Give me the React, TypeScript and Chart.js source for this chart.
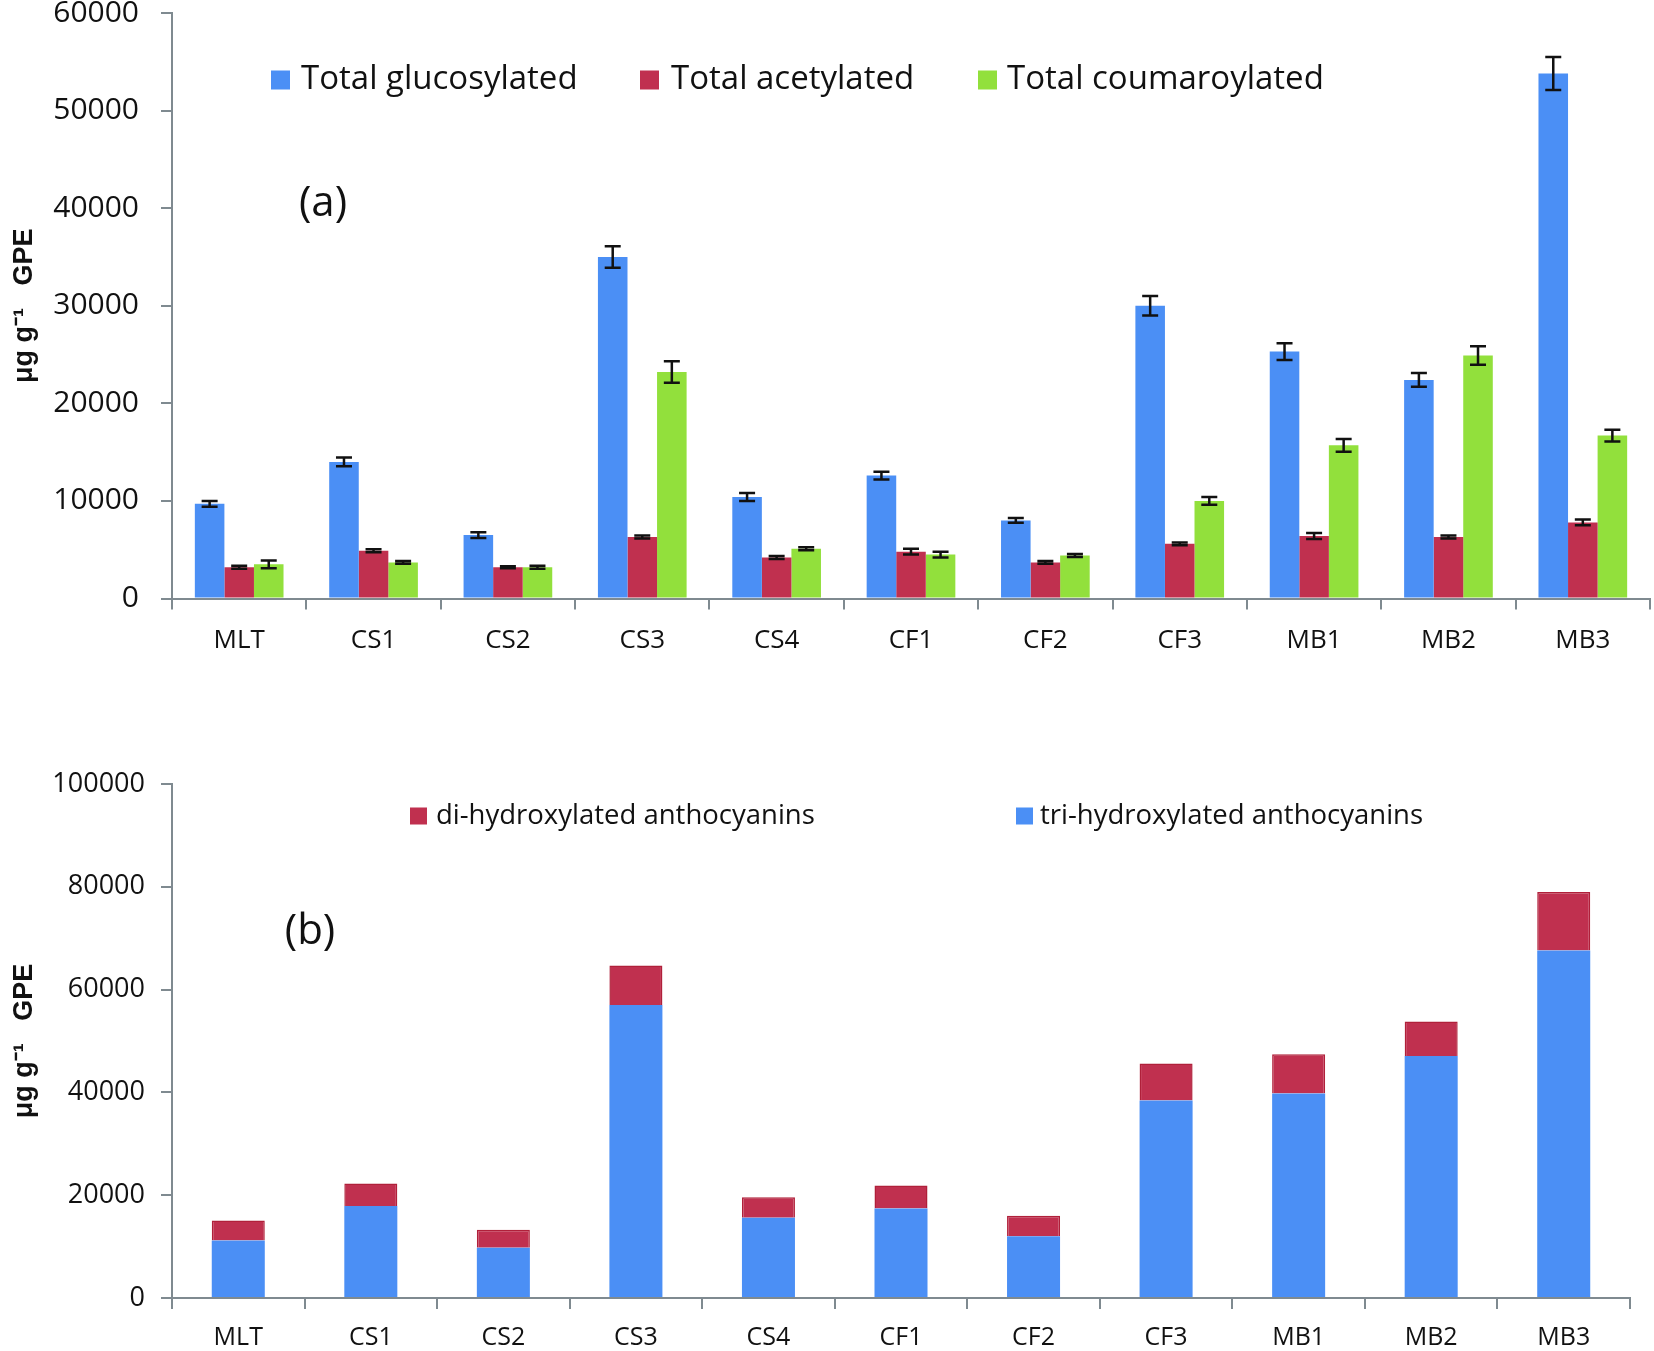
import React, { useEffect, useRef } from "react";
import { Chart, registerables } from "chart.js";

Chart.register(...registerables);

// ---------- data ----------
const categories = ["MLT", "CS1", "CS2", "CS3", "CS4", "CF1", "CF2", "CF3", "MB1", "MB2", "MB3"];

const glucosylated = [9700, 14000, 6500, 35000, 10400, 12600, 8000, 30000, 25300, 22400, 53800];
const glucosylatedErr = [300, 450, 300, 1100, 400, 400, 250, 1000, 850, 700, 1700];
const acetylated = [3200, 4900, 3200, 6300, 4200, 4800, 3700, 5600, 6400, 6300, 7800];
const acetylatedErr = [150, 150, 100, 150, 150, 300, 150, 150, 300, 150, 300];
const coumaroylated = [3500, 3700, 3200, 23200, 5100, 4500, 4400, 10000, 15700, 24900, 16700];
const coumaroylatedErr = [400, 150, 150, 1100, 150, 300, 150, 400, 650, 950, 600];

const triHydroxylated = [11200, 17900, 9800, 57000, 15600, 17400, 12000, 38400, 39800, 47100, 67600];
const diHydroxylated = [3900, 4400, 3500, 7700, 4000, 4500, 4000, 7200, 7600, 6700, 11400];

const topTicks = { min: 0, max: 60000, step: 10000 };
const bottomTicks = { min: 0, max: 100000, step: 20000 };

const seriesTop = ["Total glucosylated", "Total acetylated", "Total coumaroylated"];
const seriesBottom = ["di-hydroxylated anthocyanins", "tri-hydroxylated anthocyanins"];
const yTitle = "\u03bcg g\u207b\u00b9   GPE";

// ---------- style ----------
const BLUE = "#4b8ff5";
const RED = "#c0304f";
const GREEN = "#92e03c";
const AXIS = "#7f8a90";
const TEXT = "#111111";
const FONT = "'Open Sans', 'Noto Sans', sans-serif";

type LegendItem = { label: string; color: string; boxX: number; textX: number };

function overlayPlugin(legend: LegendItem[], legendY: number, box: number, legendSize: number, panel: string, px: number, py: number) {
  return {
    id: "overlay",
    afterDraw(chart: any) {
      const ctx = chart.ctx;
      ctx.save();
      ctx.textBaseline = "middle";
      ctx.textAlign = "left";
      ctx.font = `${legendSize}px ${FONT}`;
      legend.forEach((it) => {
        ctx.fillStyle = it.color;
        ctx.fillRect(it.boxX, legendY - box / 2, box, box);
        ctx.fillStyle = TEXT;
        ctx.fillText(it.label, it.textX, legendY);
      });
      ctx.font = `42px ${FONT}`;
      ctx.textAlign = "center";
      ctx.fillStyle = TEXT;
      ctx.fillText(panel, px, py);
      ctx.restore();
    },
  };
}

function errorBarPlugin(errs: number[][]) {
  return {
    id: "errorbars",
    afterDatasetsDraw(chart: any) {
      const ctx = chart.ctx;
      const y = chart.scales.y;
      ctx.save();
      ctx.strokeStyle = "#111";
      ctx.lineWidth = 2.5;
      errs.forEach((arr, di) => {
        const meta = chart.getDatasetMeta(di);
        const data = chart.data.datasets[di].data as number[];
        meta.data.forEach((bar: any, i: number) => {
          const v = data[i];
          const e = arr[i];
          const yt = y.getPixelForValue(v + e);
          const yb = y.getPixelForValue(v - e);
          const cw = 8;
          ctx.beginPath();
          ctx.moveTo(bar.x, yt);
          ctx.lineTo(bar.x, yb);
          ctx.moveTo(bar.x - cw, yt);
          ctx.lineTo(bar.x + cw, yt);
          ctx.moveTo(bar.x - cw, yb);
          ctx.lineTo(bar.x + cw, yb);
          ctx.stroke();
        });
      });
      ctx.restore();
    },
  };
}

function axisOpts(yWidth: number, xHeight: number, ticks: { min: number; max: number; step: number }, yFont: number, yPad: number, xFont: number, xPad: number, stacked: boolean) {
  return {
    x: {
      stacked,
      offset: true,
      grid: { display: true, drawOnChartArea: false, drawTicks: true, tickLength: 11, color: AXIS, lineWidth: 2, offset: true },
      border: { display: true, color: AXIS, width: 2 },
      ticks: { color: TEXT, font: { family: FONT, size: xFont, lineHeight: 1.2 }, padding: xPad, maxRotation: 0, autoSkip: false },
      afterFit(scale: any) {
        scale.height = xHeight;
        scale.paddingLeft = 0;
        scale.paddingRight = 0;
      },
    },
    y: {
      stacked,
      min: ticks.min,
      max: ticks.max,
      grid: { display: true, drawOnChartArea: false, drawTicks: true, tickLength: 11, color: AXIS, lineWidth: 2 },
      border: { display: true, color: AXIS, width: 2 },
      ticks: {
        stepSize: ticks.step,
        color: TEXT,
        font: { family: FONT, size: yFont, lineHeight: 1.0 },
        padding: yPad,
        callback: (v: any) => String(v),
      },
      title: {
        display: true,
        text: yTitle,
        color: TEXT,
        font: { family: "'Liberation Sans', Arial, sans-serif", size: 27, weight: "bold", lineHeight: 1.2 },
        padding: { top: 8, bottom: 0 },
      },
      afterFit(scale: any) {
        scale.width = yWidth;
        scale.paddingTop = 0;
        scale.paddingBottom = 0;
      },
    },
  };
}

function TopChart() {
  const ref = useRef<HTMLCanvasElement>(null);
  useEffect(() => {
    const chart = new Chart(ref.current!, {
      type: "bar",
      data: {
        labels: categories,
        datasets: [
          { label: seriesTop[0], data: glucosylated, backgroundColor: BLUE, categoryPercentage: 0.66, barPercentage: 1.0 },
          { label: seriesTop[1], data: acetylated, backgroundColor: RED, categoryPercentage: 0.66, barPercentage: 1.0 },
          { label: seriesTop[2], data: coumaroylated, backgroundColor: GREEN, categoryPercentage: 0.66, barPercentage: 1.0 },
        ],
      },
      options: {
        responsive: false,
        animation: false,
        devicePixelRatio: 1,
        layout: { padding: { top: 13, right: 4, left: 0, bottom: 0 } },
        plugins: { legend: { display: false }, tooltip: { enabled: false } },
        scales: axisOpts(172, 76.5, topTicks, 30, 22, 26, 15, false) as any,
      },
      plugins: [
        errorBarPlugin([glucosylatedErr, acetylatedErr, coumaroylatedErr]),
        overlayPlugin(
          [
            { label: seriesTop[0], color: BLUE, boxX: 271, textX: 301 },
            { label: seriesTop[1], color: RED, boxX: 640, textX: 671 },
            { label: seriesTop[2], color: GREEN, boxX: 978, textX: 1007 },
          ],
          80,
          19,
          33,
          "(a)",
          323,
          204
        ),
      ],
    });
    return () => chart.destroy();
  }, []);
  return <canvas ref={ref} width={1654} height={675} style={{ display: "block", width: 1654, height: 675 }} />;
}

function BottomChart() {
  const ref = useRef<HTMLCanvasElement>(null);
  useEffect(() => {
    const chart = new Chart(ref.current!, {
      type: "bar",
      data: {
        labels: categories,
        datasets: [
          { label: seriesBottom[1], data: triHydroxylated, backgroundColor: BLUE, categoryPercentage: 0.4, barPercentage: 1.0 },
          { label: seriesBottom[0], data: diHydroxylated, backgroundColor: RED, borderColor: "#b0203a", borderWidth: 1.5, categoryPercentage: 0.4, barPercentage: 1.0 },
        ],
      },
      options: {
        responsive: false,
        animation: false,
        devicePixelRatio: 1,
        layout: { padding: { top: 109, right: 24, left: 0, bottom: 0 } },
        plugins: { legend: { display: false }, tooltip: { enabled: false } },
        scales: axisOpts(172, 53, bottomTicks, 27, 16, 25, 14, true) as any,
      },
      plugins: [
        overlayPlugin(
          [
            { label: seriesBottom[0], color: RED, boxX: 410, textX: 436 },
            { label: seriesBottom[1], color: BLUE, boxX: 1016, textX: 1040 },
          ],
          141,
          17,
          27.5,
          "(b)",
          310,
          257
        ),
      ],
    });
    return () => chart.destroy();
  }, []);
  return <canvas ref={ref} width={1654} height={676} style={{ display: "block", width: 1654, height: 676 }} />;
}

export default function App() {
  return (
    <div style={{ position: "absolute", left: 0, top: 0, width: 1654, height: 1351, background: "#fff", overflow: "hidden" }}>
      <TopChart />
      <BottomChart />
    </div>
  );
}
